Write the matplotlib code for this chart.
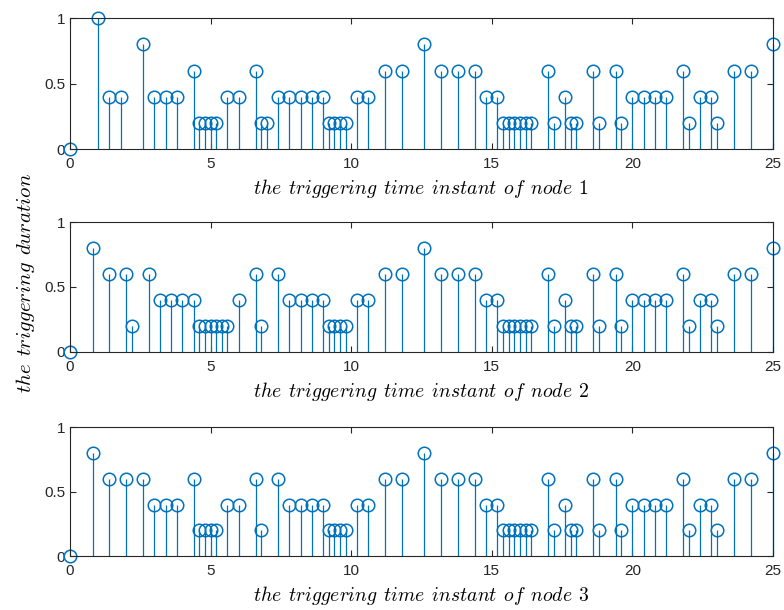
import numpy as np
import matplotlib.pyplot as plt

# time elapsed since the previous trigger, one list per node
dur_node1 = [0, 1.0, 0.4, 0.4, 0.8, 0.4, 0.4, 0.4, 0.6, 0.2, 0.2, 0.2, 0.2,
             0.4, 0.4, 0.6, 0.2, 0.2, 0.4, 0.4, 0.4, 0.4, 0.4, 0.2, 0.2, 0.2, 0.2,
             0.4, 0.4, 0.6, 0.6, 0.8, 0.6, 0.6, 0.6, 0.4, 0.4,
             0.2, 0.2, 0.2, 0.2, 0.2, 0.2, 0.6, 0.2, 0.4, 0.2, 0.2, 0.6, 0.2,
             0.6, 0.2, 0.4, 0.4, 0.4, 0.4, 0.6, 0.2, 0.4, 0.4, 0.2, 0.6, 0.6, 0.8]
dur_node2 = [0, 0.8, 0.6, 0.6, 0.2, 0.6, 0.4, 0.4, 0.4, 0.4,
             0.2, 0.2, 0.2, 0.2, 0.2, 0.2, 0.4, 0.6, 0.2, 0.6,
             0.4, 0.4, 0.4, 0.4, 0.2, 0.2, 0.2, 0.2,
             0.4, 0.4, 0.6, 0.6, 0.8, 0.6, 0.6, 0.6, 0.4, 0.4,
             0.2, 0.2, 0.2, 0.2, 0.2, 0.2, 0.6, 0.2, 0.4, 0.2, 0.2, 0.6, 0.2,
             0.6, 0.2, 0.4, 0.4, 0.4, 0.4, 0.6, 0.2, 0.4, 0.4, 0.2, 0.6, 0.6, 0.8]
dur_node3 = [0, 0.8, 0.6, 0.6, 0.6, 0.4, 0.4, 0.4, 0.6, 0.2, 0.2, 0.2, 0.2,
             0.4, 0.4, 0.6, 0.2, 0.6, 0.4, 0.4, 0.4, 0.4, 0.2, 0.2, 0.2, 0.2,
             0.4, 0.4, 0.6, 0.6, 0.8, 0.6, 0.6, 0.6, 0.4, 0.4,
             0.2, 0.2, 0.2, 0.2, 0.2, 0.2, 0.6, 0.2, 0.4, 0.2, 0.2, 0.6, 0.2,
             0.6, 0.2, 0.4, 0.4, 0.4, 0.4, 0.6, 0.2, 0.4, 0.4, 0.2, 0.6, 0.6, 0.8]
durations = [dur_node1, dur_node2, dur_node3]
xticks = [0, 5, 10, 15, 20, 25]
yticks = [0, 0.5, 1]
ytick_labels = ['0', '0.5', '1']

plt.rcParams['mathtext.fontset'] = 'cm'
plt.rcParams['font.family'] = ['Liberation Sans', 'DejaVu Sans']

blue = '#0072BD'
fig = plt.figure(figsize=(7.84, 6.1), dpi=100)
boxes = [[0.0893, 0.7557, 0.8967, 0.2143],
         [0.0893, 0.4234, 0.8967, 0.2126],
         [0.0893, 0.0885, 0.8967, 0.2110]]

for i, (d, box) in enumerate(zip(durations, boxes)):
    ax = fig.add_axes(box)
    t = np.cumsum(d)  # trigger instants
    ml, sl, bl = ax.stem(t, d, basefmt=' ')
    plt.setp(sl, color=blue, linewidth=0.9, clip_on=False)
    plt.setp(ml, color=blue, marker='o', markerfacecolor='none',
             markersize=9, markeredgewidth=1.1, clip_on=False)
    ax.set_xlim(0, 25)
    ax.set_ylim(0, 1)
    ax.set_xticks(xticks)
    ax.set_yticks(yticks)
    ax.set_yticklabels(ytick_labels)
    ax.tick_params(direction='in', top=True, right=True, length=4,
                   width=0.8, labelsize=11, colors='#262626')
    ax.tick_params(axis='x', pad=6)
    for sp in ax.spines.values():
        sp.set_color('#262626')
        sp.set_linewidth(0.8)
    ax.set_xlabel(r'$the\;\,triggering\;\,time\;\,instant\;\,of\;\,node\;\,%d$' % (i + 1),
                  fontsize=14.2, labelpad=4)
    if i == 1:
        ax.set_ylabel(r'$the\;\,triggering\;\,duration$', fontsize=15)
        ax.yaxis.set_label_coords(-0.047, 0.53)

fig.savefig('out.png', dpi=100)
